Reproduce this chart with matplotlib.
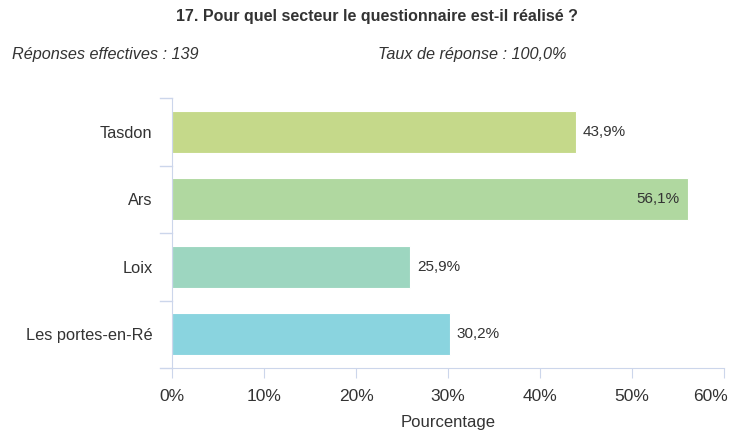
import matplotlib
matplotlib.use("Agg")
import matplotlib.pyplot as plt
from matplotlib.lines import Line2D

categories = ["Tasdon", "Ars", "Loix", "Les portes-en-Ré"]
values = [43.9, 56.1, 25.9, 30.2]
value_labels = ["43,9%", "56,1%", "25,9%", "30,2%"]
colors = ["#c5d98a", "#b0d8a0", "#9dd6c0", "#8ad4df"]
xticks = [0, 10, 20, 30, 40, 50, 60]
xtick_labels = ["0%", "10%", "20%", "30%", "40%", "50%", "60%"]

W, H = 736, 434
fig = plt.figure(figsize=(W / 100, H / 100), dpi=100)
plt.rcParams['font.family'] = ['Liberation Sans', 'DejaVu Sans']

left, right, top, bottom = 172, 724, 98, 368
ax = fig.add_axes([left / W, 1 - bottom / H, (right - left) / W, (bottom - top) / H])

axis_col = "#ccd6eb"
text_col = "#333333"

ypos = list(range(len(categories)))
ax.barh(ypos, values, height=0.62, color=colors, edgecolor="white", linewidth=0.8)
ax.set_xlim(0, 60)
ax.set_ylim(len(categories) - 0.5, -0.5)

for y, v, lab in zip(ypos, values, value_labels):
    if v > 50:
        ax.annotate(lab, (v, y), xytext=(-6, 0), textcoords="offset points",
                    ha="right", va="center", fontsize=11, color=text_col)
    else:
        ax.annotate(lab, (v, y), xytext=(5, 0), textcoords="offset points",
                    ha="left", va="center", fontsize=11, color=text_col)

for s in ["top", "right"]:
    ax.spines[s].set_visible(False)
ax.spines["left"].set_color(axis_col)
ax.spines["bottom"].set_color(axis_col)

tick_len, tick_pad = 7, 8
ax.set_xticks(xticks)
ax.set_xticklabels(xtick_labels[:-1] + [""], fontsize=12.5, color=text_col)
ax.tick_params(axis="x", length=tick_len, color=axis_col, pad=tick_pad)
# last tick label shifted inside the canvas
ax.annotate(xtick_labels[-1], (xticks[-1], 0), xycoords=("data", "axes fraction"),
            xytext=(3, -(tick_len + tick_pad)), textcoords="offset points",
            ha="right", va="top", fontsize=12.5, color=text_col, annotation_clip=False)

ax.set_yticks(ypos)
ax.set_yticklabels(categories, fontsize=11.8, color=text_col)
ax.tick_params(axis="y", length=0, pad=14)

# category boundary ticks
for b in [-0.5, 0.5, 1.5, 2.5]:
    ax.add_line(Line2D([-1.3, 0], [b, b], color=axis_col, lw=1, clip_on=False))
# bottom axis extension to the left
ax.add_line(Line2D([-1.3, 0], [3.5, 3.5], color=axis_col, lw=1, clip_on=False))

ax.set_xlabel("Pourcentage", fontsize=12, color=text_col, labelpad=8)

fig.text(377 / W, 1 - 17 / H, "17. Pour quel secteur le questionnaire est-il réalisé ?",
         ha="center", va="center", fontsize=11.5, fontweight="bold", color=text_col)
fig.text(12 / W, 1 - 55 / H, "Réponses effectives : 139", ha="left", va="center",
         fontsize=11.7, style="italic", color=text_col)
fig.text(378 / W, 1 - 55 / H, "Taux de réponse : 100,0%", ha="left", va="center",
         fontsize=11.7, style="italic", color=text_col)

fig.savefig("out.png", dpi=100)
